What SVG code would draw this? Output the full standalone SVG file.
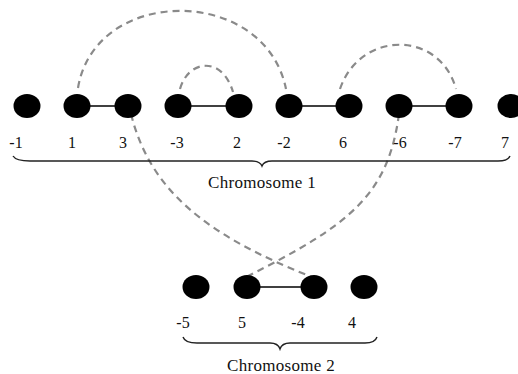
<svg xmlns="http://www.w3.org/2000/svg" width="518" height="374" viewBox="0 0 518 374">
<style>
.n{fill:#000}
.e{stroke:#000;stroke-width:1.6;fill:none}
.d{stroke:#8a8a8a;stroke-width:2.2;fill:none;stroke-dasharray:7 5}
.b{stroke:#222;stroke-width:1.4;fill:none}
text{font-family:"Liberation Serif","Times New Roman",serif;font-size:16px;fill:#111}
.c{text-anchor:middle}
.t{font-size:17px;letter-spacing:0.3px}
</style>
<rect width="518" height="374" fill="#fff"/>
<g id="connectors">
<line class="e" x1="77" y1="106" x2="128" y2="106"/>
<line class="e" x1="178" y1="106" x2="239" y2="106"/>
<line class="e" x1="289" y1="106" x2="349" y2="106"/>
<line class="e" x1="399" y1="106" x2="459" y2="106"/>
<line class="e" x1="247" y1="287" x2="314" y2="287"/>
<path class="d" d="M78,88 C95,-15 265,-15 286,89"/>
<path class="d" d="M180,89 C188,60 222,55 233,92"/>
<path class="d" d="M340,89 C360,30 440,30 456,89"/>
<path class="d" d="M131,114 C150,190 205,235 312,277"/>
<path class="d" d="M399,114 C388,195 350,225 246,277"/>
</g>
<g id="chromosome1">
<g id="n-1"><ellipse class="n" cx="27" cy="106" rx="13.5" ry="12"/><text class="c" x="16" y="148">-1</text></g>
<g id="n1"><ellipse class="n" cx="77" cy="106" rx="13.5" ry="12"/><text class="c" x="72" y="148">1</text></g>
<g id="n3"><ellipse class="n" cx="128" cy="106" rx="13.5" ry="12"/><text class="c" x="123" y="148">3</text></g>
<g id="n-3"><ellipse class="n" cx="178" cy="106" rx="13.5" ry="12"/><text class="c" x="177" y="148">-3</text></g>
<g id="n2"><ellipse class="n" cx="239" cy="106" rx="13.5" ry="12"/><text class="c" x="237" y="148">2</text></g>
<g id="n-2"><ellipse class="n" cx="289" cy="106" rx="13.5" ry="12"/><text class="c" x="284" y="148">-2</text></g>
<g id="n6"><ellipse class="n" cx="349" cy="106" rx="13.5" ry="12"/><text class="c" x="343" y="148">6</text></g>
<g id="n-6"><ellipse class="n" cx="399" cy="106" rx="13.5" ry="12"/><text class="c" x="400" y="148">-6</text></g>
<g id="n-7"><ellipse class="n" cx="459" cy="106" rx="13.5" ry="12"/><text class="c" x="455" y="148">-7</text></g>
<g id="n7"><ellipse class="n" cx="511" cy="106" rx="13.5" ry="12"/><text class="c" x="505" y="148">7</text></g>
<g id="brace1"><path class="b" d="M13,156 Q16,161 30,161 L252,161 Q260,161 262,166 Q264,161 272,161 L498,161 Q508,161 510,156"/>
<text class="c t" x="262" y="188">Chromosome 1</text></g>
</g>
<g id="chromosome2">
<g id="n-5"><ellipse class="n" cx="196" cy="287" rx="13.5" ry="12"/><text class="c" x="183" y="328">-5</text></g>
<g id="n5"><ellipse class="n" cx="247" cy="287" rx="13.5" ry="12"/><text class="c" x="242" y="328">5</text></g>
<g id="n-4"><ellipse class="n" cx="314" cy="287" rx="13.5" ry="12"/><text class="c" x="298" y="328">-4</text></g>
<g id="n4"><ellipse class="n" cx="364" cy="287" rx="13.5" ry="12"/><text class="c" x="352" y="328">4</text></g>
<g id="brace2"><path class="b" d="M183,337 Q185,343 197,343 L270,343 Q278,343 280,349 Q282,343 290,343 L365,343 Q375,343 377,337"/>
<text class="c t" x="281" y="371">Chromosome 2</text></g>
</g>
</svg>
